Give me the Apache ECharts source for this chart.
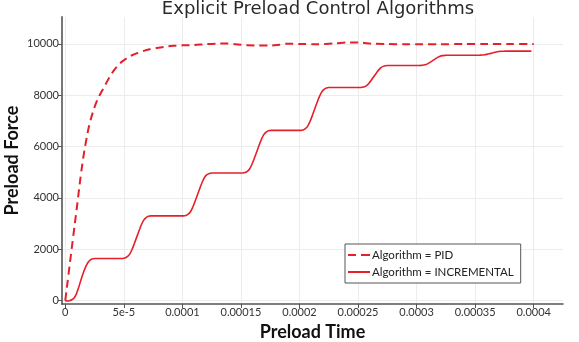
<!DOCTYPE html>
<html>
<head>
<meta charset="utf-8">
<script src="https://cdn.jsdelivr.net/npm/echarts@6/dist/echarts.min.js"></script>
<style>
  html, body { margin: 0; padding: 0; background: #fff; }
  #chart { width: 579px; height: 342px; }
</style>
</head>
<body>
<div id="chart"></div>
<script>
// Tick positions and their printed labels
const xTicks = [0, 0.00005, 0.0001, 0.00015, 0.0002, 0.00025, 0.0003, 0.00035, 0.0004];
const xTickLabels = ['0', '5e-5', '0.0001', '0.00015', '0.0002', '0.00025', '0.0003', '0.00035', '0.0004'];
const yTicks = [0, 2000, 4000, 6000, 8000, 10000];
const yTickLabels = ['0', '2000', '4000', '6000', '8000', '10000'];

// Algorithm = PID : [time, force]
const pidSeries = [
  [0, 0], [1.0e-6, 370], [2.0e-6, 740], [3.0e-6, 1110], [4.0e-6, 1480], [5.0e-6, 1850],
  [6.0e-6, 2210], [7.0e-6, 2580], [8.0e-6, 2940], [9.0e-6, 3300], [1.0e-5, 3660],
  [1.1e-5, 4040], [1.2e-5, 4420], [1.3e-5, 4790], [1.42e-5, 5200], [1.55e-5, 5610],
  [1.7e-5, 6020], [1.85e-5, 6400], [2.0e-5, 6740], [2.2e-5, 7100], [2.4e-5, 7400],
  [2.6e-5, 7660], [2.8e-5, 7880], [3.05e-5, 8100], [3.3e-5, 8300], [3.6e-5, 8560],
  [3.9e-5, 8800], [4.2e-5, 9000], [4.55e-5, 9190], [4.9e-5, 9330], [5.3e-5, 9460],
  [5.7e-5, 9560], [6.2e-5, 9650], [6.7e-5, 9730], [7.2e-5, 9790], [7.8e-5, 9840],
  [8.5e-5, 9890], [9.2e-5, 9925], [1.0e-4, 9945], [1.1e-4, 9960], [1.2e-4, 9990],
  [1.3e-4, 10010], [1.38e-4, 10015], [1.45e-4, 9990], [1.55e-4, 9950], [1.65e-4, 9940],
  [1.75e-4, 9935], [1.83e-4, 9970], [1.9e-4, 10010], [2.0e-4, 10000], [2.15e-4, 9990],
  [2.3e-4, 10020], [2.42e-4, 10060], [2.52e-4, 10050], [2.62e-4, 10010], [2.75e-4, 9995],
  [2.9e-4, 9990], [3.05e-4, 9985], [3.2e-4, 9990], [3.4e-4, 9995], [3.6e-4, 10000],
  [3.8e-4, 10000], [4.0e-4, 10000]
];

// Algorithm = INCREMENTAL : [time, force], one block per load step
const incrementalSeries = [
  [0, 0], [1.5e-6, -20], [3.5e-6, -10], [5.5e-6, 30], [7.5e-6, 100], [9.5e-6, 260],
  [1.15e-5, 520], [1.35e-5, 820], [1.55e-5, 1090], [1.75e-5, 1320], [1.95e-5, 1490],
  [2.15e-5, 1585], [2.35e-5, 1628], [2.55e-5, 1640], [4.9e-5, 1640],

  [5.1e-5, 1657], [5.3e-5, 1706], [5.5e-5, 1806], [5.7e-5, 1989], [5.9e-5, 2221],
  [6.1e-5, 2470], [6.3e-5, 2719], [6.5e-5, 2951], [6.7e-5, 3134], [6.9e-5, 3234],
  [7.1e-5, 3283], [7.3e-5, 3300], [1.01e-4, 3300],

  [1.03e-4, 3317], [1.05e-4, 3367], [1.07e-4, 3467], [1.09e-4, 3651], [1.11e-4, 3885],
  [1.13e-4, 4135], [1.15e-4, 4386], [1.17e-4, 4619], [1.19e-4, 4803], [1.21e-4, 4903],
  [1.23e-4, 4953], [1.25e-4, 4970], [1.515e-4, 4970],

  [1.535e-4, 4987], [1.555e-4, 5036], [1.575e-4, 5136], [1.595e-4, 5319], [1.615e-4, 5551],
  [1.635e-4, 5800], [1.655e-4, 6049], [1.675e-4, 6281], [1.695e-4, 6464], [1.715e-4, 6564],
  [1.735e-4, 6613], [1.755e-4, 6630], [2.01e-4, 6630],

  [2.03e-4, 6647], [2.05e-4, 6697], [2.07e-4, 6797], [2.09e-4, 6981], [2.11e-4, 7215],
  [2.13e-4, 7465], [2.15e-4, 7716], [2.17e-4, 7949], [2.19e-4, 8133], [2.21e-4, 8233],
  [2.23e-4, 8283], [2.25e-4, 8300], [2.515e-4, 8300],

  [2.535e-4, 8309], [2.555e-4, 8334], [2.575e-4, 8386], [2.595e-4, 8481], [2.615e-4, 8601],
  [2.635e-4, 8730], [2.655e-4, 8859], [2.675e-4, 8979], [2.695e-4, 9074], [2.715e-4, 9126],
  [2.735e-4, 9151], [2.755e-4, 9160], [3.02e-4, 9160],

  [3.04e-4, 9164], [3.06e-4, 9176], [3.08e-4, 9200], [3.10e-4, 9244], [3.12e-4, 9300],
  [3.14e-4, 9360], [3.16e-4, 9420], [3.18e-4, 9476], [3.20e-4, 9520], [3.22e-4, 9544],
  [3.24e-4, 9556], [3.26e-4, 9560], [3.52e-4, 9560],

  [3.54e-4, 9562], [3.56e-4, 9566], [3.58e-4, 9576], [3.60e-4, 9594], [3.62e-4, 9616],
  [3.64e-4, 9640], [3.66e-4, 9664], [3.68e-4, 9686], [3.70e-4, 9704], [3.72e-4, 9714],
  [3.74e-4, 9718], [3.76e-4, 9720], [3.98e-4, 9720]
];

const RED = '#e4202a';
const FONT = 'Lato, "DejaVu Sans", sans-serif';

function labelFor(ticks, labels) {
  return function (v) {
    for (let i = 0; i < ticks.length; i++) {
      if (Math.abs(v - ticks[i]) < 1e-12 * Math.max(1, Math.abs(ticks[i]))) return labels[i];
    }
    return '';
  };
}

const chart = echarts.init(document.getElementById('chart'), null, { renderer: 'canvas' });
chart.setOption({
  animation: false,
  backgroundColor: '#fff',
  title: {
    text: 'Explicit Preload Control Algorithms',
    left: 313,
    textAlign: 'center',
    top: -5,
    textStyle: { fontFamily: '"DejaVu Sans", sans-serif', fontWeight: 'normal', fontSize: 18, color: '#2a2a2a' }
  },
  grid: { left: 62, right: 16, top: 17, bottom: 38, containLabel: false, outerBoundsMode: 'none' },
  legend: {
    orient: 'vertical',
    left: 345,
    top: 244,
    padding: [5, 7, 5, 3],
    itemGap: 5,
    itemWidth: 22,
    itemHeight: 2,
    symbolKeepAspect: false,
    backgroundColor: '#fff',
    borderColor: '#555',
    borderWidth: 1,
    textStyle: { fontFamily: FONT, fontSize: 11.5, color: '#222', padding: [0, 0, 0, -3] },
    data: [
      { name: 'Algorithm = PID', icon: 'path://M0 0H8V2H0Z M13 0H22V2H13Z' },
      { name: 'Algorithm = INCREMENTAL', icon: 'path://M0 0H22V2H0Z' }
    ]
  },
  xAxis: {
    type: 'value',
    min: -0.0000028,
    max: 0.000425,
    name: 'Preload Time',
    nameLocation: 'middle',
    nameGap: 14,
    nameTextStyle: { fontFamily: FONT, fontWeight: 'bold', fontSize: 18, color: '#111' },
    axisLine: { show: true, onZero: false, lineStyle: { color: '#555', width: 1.5 } },
    axisTick: { show: true, inside: false, length: 4, customValues: xTicks, lineStyle: { color: '#555' } },
    axisLabel: {
      customValues: xTicks,
      formatter: labelFor(xTicks, xTickLabels),
      fontFamily: FONT, fontSize: 11, color: '#333', margin: 3
    },
    splitLine: { show: true, lineStyle: { color: '#ececec', width: 1 } }
  },
  yAxis: {
    type: 'value',
    min: -136,
    max: 11050,
    name: 'Preload Force',
    nameLocation: 'middle',
    nameGap: 41,
    nameMoveOverlap: false,
    nameTextStyle: { fontFamily: FONT, fontWeight: 'bold', fontSize: 18, color: '#111' },
    axisLine: { show: true, onZero: false, lineStyle: { color: '#777', width: 2 } },
    axisTick: { show: true, inside: false, length: 4, customValues: yTicks, lineStyle: { color: '#555' } },
    axisLabel: {
      customValues: yTicks,
      formatter: labelFor(yTicks, yTickLabels),
      fontFamily: FONT, fontSize: 11, color: '#333', margin: 3
    },
    splitLine: { show: true, lineStyle: { color: '#ececec', width: 1 } }
  },
  series: [
    {
      name: 'Algorithm = PID',
      type: 'line',
      data: pidSeries,
      symbol: 'none',
      smooth: 0.3,
      color: RED,
      lineStyle: { color: RED, width: 2, type: [8, 5] }
    },
    {
      name: 'Algorithm = INCREMENTAL',
      type: 'line',
      data: incrementalSeries,
      symbol: 'none',
      smooth: 0.3,
      color: RED,
      lineStyle: { color: RED, width: 1.6, type: 'solid' }
    }
  ]
});
</script>
</body>
</html>
